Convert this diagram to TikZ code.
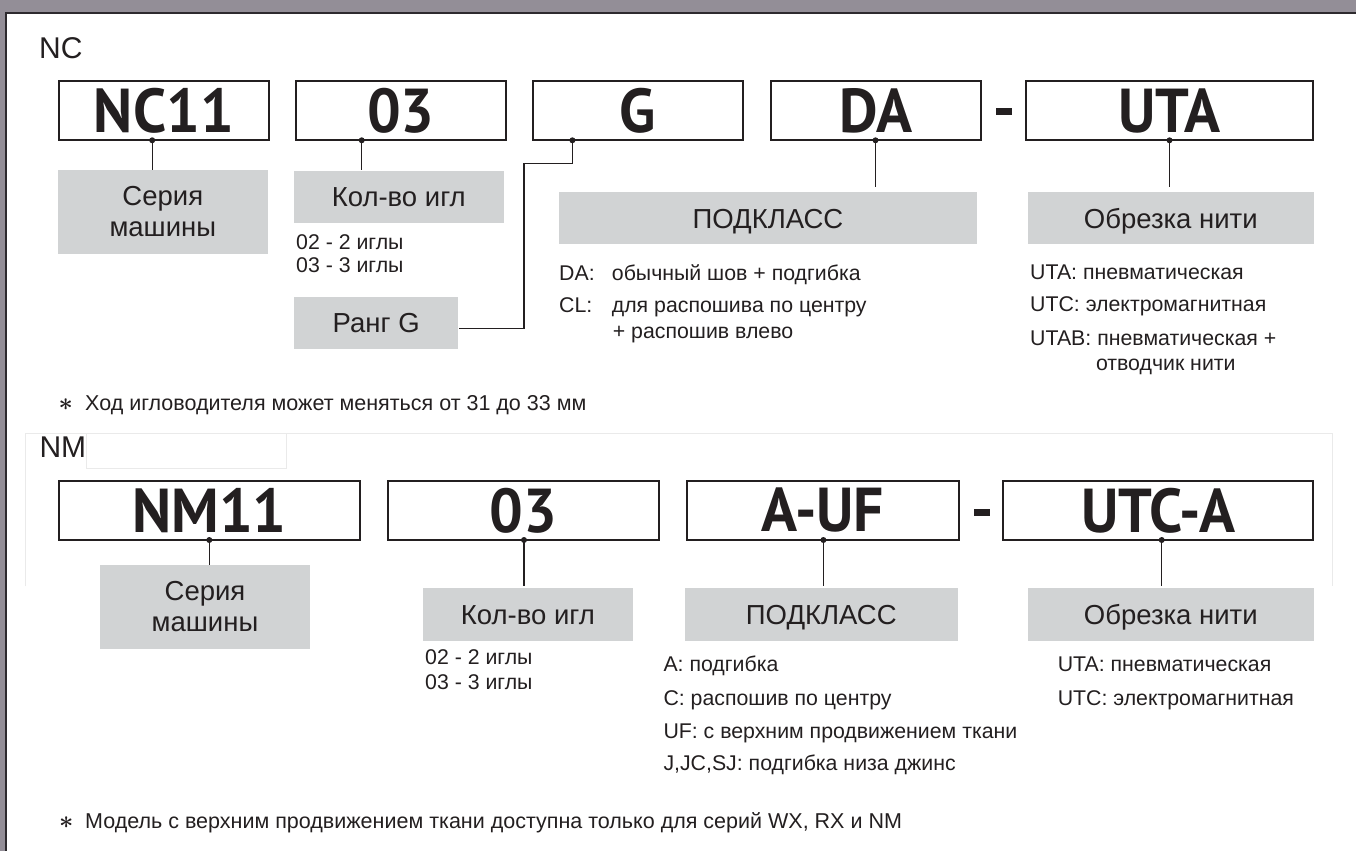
\documentclass[tikz,border=0pt]{standalone}
\usepackage{fontspec}
\setmainfont{Liberation Sans}
\newfontfamily\codefont[FakeStretch=0.96]{PT Sans}
\usetikzlibrary{calc}
\definecolor{ink}{RGB}{35,31,32}
\definecolor{lblgrey}{RGB}{209,211,212}
\definecolor{framegrey}{RGB}{147,142,151}
\definecolor{frameink}{RGB}{45,42,46}
\definecolor{faint}{RGB}{234,234,234}
\begin{document}
\begin{tikzpicture}[x=1pt,y=-1pt,
  codebox/.style={draw=ink, line width=2pt, rectangle, inner sep=0pt, minimum height=59.3pt,
    font=\codefont\bfseries\fontsize{62}{62}\selectfont, text=ink},
  lbl/.style={fill=lblgrey, rectangle, inner sep=0pt, text height=19.7pt, text depth=0pt,
    font=\fontsize{27.5}{31}\selectfont, text=ink},
  lbltwo/.style={fill=lblgrey, rectangle, inner sep=0pt, minimum height=83.7pt, align=center,
    font=\fontsize{27.5}{31.3}\selectfont, text=ink},
  item/.style={anchor=base west, inner sep=0pt, font=\fontsize{21.3}{24}\selectfont, text=ink},
  note/.style={anchor=base west, inner sep=0pt, font=\fontsize{21.5}{24}\selectfont, text=ink},
  titl/.style={anchor=base west, inner sep=0pt, font=\fontsize{30}{32}\selectfont, text=ink},
  starn/.style={inner sep=0pt, font=\fontsize{30}{32}\selectfont\boldmath, text=ink},
  dashbar/.style={fill=ink, rectangle, inner sep=0pt, minimum width=16pt, minimum height=7pt},
  conn/.style={draw=ink, line width=1.3pt},
]
\useasboundingbox (0,0) rectangle (1356,851);
% frame
\fill[white] (0,0) rectangle (1356,851);
\fill[framegrey] (0,0) rectangle (1356,12);
\fill[framegrey] (0,0) rectangle (5,851);
\fill[frameink] (5,12) rectangle (1356,14.2);
\fill[frameink] (5,12) rectangle (7.3,851);
% faint pasted outlines
\draw[faint, line width=1pt] (25,586) -- (25,433.3) -- (1332.3,433.3) -- (1332.3,586);
\draw[faint, line width=1pt] (86,433.3) rectangle (286.7,468.3);

% ===== NC =====
\node[titl] (ncname) at (39,59) {NC};
\node[codebox, minimum width=210.8pt] (nc1) at (163.9,110.65) {NC11};
\node[codebox, minimum width=210.2pt] (nc2) at (400.9,110.65) {03};
\node[codebox, minimum width=210.7pt] (nc3) at (637.85,110.65) {G};
\node[codebox, minimum width=210.4pt] (nc4) at (875.7,110.65) {DA};
\node[dashbar] (ncdash) at (1004,111.7) {};
\node[codebox, minimum width=286.6pt] (nc5) at (1169.7,110.65) {UTA};

\node[lbltwo, minimum width=209.6pt] (ncl1) at (162.8,211.85) {Серия\\машины};
\node[lbl, minimum width=209.5pt, minimum height=52.8pt] (ncl2) at (398.75,196.9) {Кол-во игл};
\node[lbl, minimum width=164.4pt, minimum height=52.6pt] (ncl3) at (376.2,323) {Ранг G};
\node[lbl, minimum width=417.1pt, minimum height=52pt] (ncl4) at (767.95,218.3) {ПОДКЛАСС};
\node[lbl, minimum width=285.5pt, minimum height=52pt] (ncl5) at (1170.75,218.3) {Обрезка нити};

\coordinate (d1) at (152.2,140.3);
\coordinate (d2) at (361.7,140.3);
\coordinate (d3) at (572.4,140.3);
\coordinate (d4) at (875.5,140.3);
\coordinate (d5) at (1169.5,140.3);
\coordinate (g1) at (523.9,163.3);
\draw[conn] (d1) -- (d1 |- ncl1.north);
\draw[conn] (d2) -- (d2 |- ncl2.north);
\draw[conn] (d3) |- (g1) |- ($(ncl3.east)+(0,5.3)$);
\draw[conn] (d4) -- ($(d4 |- ncl4.north)+(0,-5)$);
\draw[conn] (d5) -- ($(d5 |- ncl5.north)+(0,-5)$);
\foreach \d in {d1,d2,d3,d4,d5} \fill[ink] (\d) circle[radius=3];

\node[item] (ncn1) at (296,249.3) {02 - 2 иглы};
\node[item] (ncn2) at (296,272.3) {03 - 3 иглы};

\node[item] (ncs1k) at (559,280) {DA:};
\node[item] (ncs1v) at (611.7,280) {обычный шов + подгибка};
\node[item] (ncs2k) at (559,312.7) {CL:};
\node[item] (ncs2v) at (611.7,312.7) {для распошива по центру};
\node[item] (ncs3v) at (612.7,338.3) {+ распошив влево};

\node[item] (nct1) at (1030,279.3) {UTA: пневматическая};
\node[item] (nct2) at (1030,311.7) {UTC: электромагнитная};
\node[item] (nct3) at (1030,345) {UTAB: пневматическая +};
\node[item] (nct4) at (1095.8,370) {отводчик нити};

\node[starn] (fn1s) at (65.8,404.2) {$\ast$};
\node[note] (fn1) at (85,410) {Ход игловодителя может меняться от 31 до 33 мм};

% ===== NM =====
\node[titl] (nmname) at (39.3,457.3) {NM};
\node[codebox, minimum width=301pt] (nm1) at (209.4,510.35) {NM11};
\node[codebox, minimum width=271pt] (nm2) at (523.5,510.35) {03};
\node[codebox, minimum width=272.2pt] (nm3) at (822.9,510.35) {A-UF};
\node[dashbar] (nmdash) at (982.2,512.3) {};
\node[codebox, minimum width=309.6pt] (nm4) at (1158.2,510.35) {UTC-A};

\node[lbltwo, minimum width=210pt] (nml1) at (205,606.85) {Серия\\машины};
\node[lbl, minimum width=210.2pt, minimum height=52.4pt] (nml2) at (527.9,614.5) {Кол-во игл};
\node[lbl, minimum width=273.2pt, minimum height=52.4pt] (nml3) at (821.3,614.5) {ПОДКЛАСС};
\node[lbl, minimum width=285.5pt, minimum height=52.4pt] (nml4) at (1170.75,614.5) {Обрезка нити};

\coordinate (e1) at (209.3,540);
\coordinate (e2) at (524,540);
\coordinate (e3) at (823.4,540);
\coordinate (e4) at (1161.7,540);
\draw[conn] (e1) -- (e1 |- nml1.north);
\draw[conn] (e2) -- ($(e2 |- nml2.north)+(0,-2.6)$);
\draw[conn] (e3) -- ($(e3 |- nml3.north)+(0,-2.6)$);
\draw[conn] (e4) -- ($(e4 |- nml4.north)+(0,-2.6)$);
\foreach \d in {e1,e2,e3,e4} \fill[ink] (\d) circle[radius=3];

\node[item] (nmn1) at (425,664.3) {02 - 2 иглы};
\node[item] (nmn2) at (425,689.3) {03 - 3 иглы};

\node[item] (nms1) at (663.3,671.7) {A: подгибка};
\node[item] (nms2) at (663.3,705) {C: распошив по центру};
\node[item] (nms3) at (663.3,738.3) {UF: с верхним продвижением ткани};
\node[item] (nms4) at (663.3,770) {J,JC,SJ: подгибка низа джинс};

\node[item] (nmt1) at (1057.6,671.7) {UTA: пневматическая};
\node[item] (nmt2) at (1057.6,705) {UTC: электромагнитная};

\node[starn] (fn2s) at (66.2,822.5) {$\ast$};
\node[note] (fn2) at (85,828.3) {Модель с верхним продвижением ткани доступна только для серий WX, RX и NM};
\end{tikzpicture}
\end{document}
